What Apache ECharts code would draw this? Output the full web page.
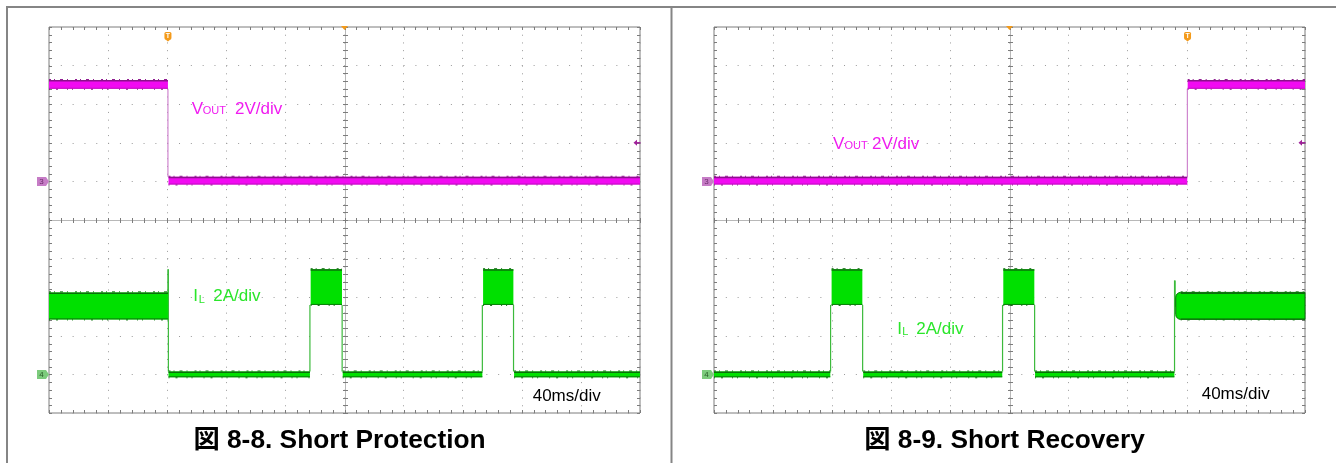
<!DOCTYPE html>
<html><head><meta charset="utf-8">
<script src="https://cdn.jsdelivr.net/npm/echarts@6.0.0/dist/echarts.min.js"></script>
<style>html,body{margin:0;padding:0;background:#fff}#c{width:1336px;height:463px}</style>
</head><body><div id="c"></div>
<script>
// ---------- scales (time in ms, VOUT in V, IL in A) ----------
const timeMin = 0, timeMax = 400, timeDiv = 40;      // 40ms/div
const voutMin = -12, voutMax = 8, voutDiv = 2;        // 2V/div
const ilMin = -2, ilMax = 18, ilDiv = 2;              // 2A/div

// ---------- 図 8-8. Short Protection ----------
const protTrigger = 80.5;
const protTrigLevel = 2;
// bands: [tStart, tEnd, low, high]
const protVoutBands = [[0, 80.5, 4.8, 5.25], [80.9, 400, -0.16, 0.24]];
// edges: [t, from, to]
const protVoutEdges = [[80.5, 4.8, 0.24]];
const protIlBands = [[0, 80.5, 2.85, 4.25], [80.9, 176.6, -0.15, 0.15], [177.1, 198.3, 3.6, 5.45],
                     [198.8, 293.3, -0.15, 0.15], [293.8, 314.3, 3.6, 5.45], [314.8, 400, -0.15, 0.15]];
const protIlEdges = [[80.5, 2.85, 5.45], [80.8, 5.45, 0.15], [176.6, 0.15, 3.6], [198.4, 3.6, 0.15],
                     [293.3, 0.15, 3.6], [314.4, 3.6, 0.15]];

// ---------- 図 8-9. Short Recovery ----------
const recTrigger = 320.5;
const recTrigLevel = 2;
const recVoutBands = [[0, 320.3, -0.16, 0.24], [320.6, 400, 4.8, 5.25]];
const recVoutEdges = [[320.4, 0.24, 4.8]];
const recIlBands = [[0, 78.7, -0.15, 0.15], [79.6, 100.4, 3.6, 5.45], [101, 195.1, -0.15, 0.15],
                    [195.8, 216.8, 3.6, 5.45], [217.3, 311.6, -0.15, 0.15], [312.5, 400, 2.85, 4.25]];
const recIlEdges = [[78.9, 0.15, 3.6], [100.6, 3.6, 0.15], [195.3, 0.15, 3.6], [217, 3.6, 0.15],
                    [311.7, 0.15, 4.87], [312.1, 4.87, 3.5]];

const captions = ['図 8-8. Short Protection', '図 8-9. Short Recovery'];

// ---------- rendering ----------
const FONT = '"Liberation Sans", Arial, "Noto Sans CJK JP", sans-serif';
function ln(x1, y1, x2, y2, stroke, w, dash) {
  const st = {stroke, lineWidth: w || 1};
  if (dash) st.lineDash = dash;
  return {type: 'line', shape: {x1, y1, x2, y2}, style: st};
}
function decorRender(trigger) {
  return function (params, api) {
    const tl = api.coord([timeMin, voutMax]), br = api.coord([timeMax, voutMin]);
    const c = api.coord([(timeMin + timeMax) / 2, (voutMin + voutMax) / 2]);
    const ch = [];
    const cy = Math.round(c[1]) + 0.5, cx = Math.round(c[0]) + 0.5;
    ch.push(ln(tl[0], cy, br[0], cy, '#b8b8b8'));
    ch.push(ln(cx, tl[1], cx, br[1], '#b8b8b8'));
    const tk = '#7c7c7c';
    const tStep = timeDiv / 5;
    for (let i = 0; i <= Math.round((timeMax - timeMin) / tStep); i++) {
      const x = Math.round(api.coord([timeMin + i * tStep, 0])[0]) + 0.5;
      ch.push(ln(x, tl[1], x, tl[1] + 3, tk));
      ch.push(ln(x, br[1] - 3, x, br[1], tk));
      ch.push(ln(x, cy - 2.5, x, cy + 2.5, tk));
    }
    const vStep = voutDiv / 5;
    for (let i = 0; i <= Math.round((voutMax - voutMin) / vStep); i++) {
      const y = Math.round(api.coord([0, voutMin + i * vStep])[1]) + 0.5;
      ch.push(ln(tl[0], y, tl[0] + 3, y, tk));
      ch.push(ln(br[0] - 3, y, br[0], y, tk));
      ch.push(ln(cx - 2.5, y, cx + 2.5, y, tk));
    }
    // horizontal position marker (top centre)
    ch.push({type: 'polygon', shape: {points: [[c[0] - 3.5, tl[1] - 1], [c[0] + 3.5, tl[1] - 1], [c[0], tl[1] + 3]]},
             style: {fill: '#f39a1a'}});
    // trigger marker "T"
    const tx = api.coord([trigger, 0])[0];
    const top = tl[1] + 5;
    ch.push({type: 'rect', shape: {x: tx - 3.5, y: top, width: 7, height: 7.5, r: 1.5}, style: {fill: '#f39a1a'}});
    ch.push({type: 'polygon', shape: {points: [[tx - 3, top + 7], [tx + 3, top + 7], [tx, top + 9.5]]}, style: {fill: '#f39a1a'}});
    ch.push({type: 'text', x: tx, y: top + 4, style: {text: 'T', fill: '#fff', fontSize: 7, fontWeight: 'bold',
             fontFamily: FONT, align: 'center', verticalAlign: 'middle'}});
    return {type: 'group', children: ch};
  };
}
function bandRender(col, marker, trigLevel, roundIdx) {
  return function (params, api) {
    const t0 = api.value(0), t1 = api.value(1), lo = api.value(2), hi = api.value(3);
    const a = api.coord([t0, hi]), b = api.coord([t1, lo]);
    const h = b[1] - a[1];
    const rounded = params.dataIndex === roundIdx;
    const r = rounded ? Math.min(5, h / 2) : 0;
    const ch = [
      {type: 'rect', shape: {x: a[0], y: a[1], width: b[0] - a[0], height: h, r: [r, 0, 0, r]},
       style: {fill: col.fill, stroke: rounded ? col.edge : null, lineWidth: rounded ? 1 : 0}},
      ln(a[0] + r, a[1] + 0.75, b[0], a[1] + 0.75, col.edge, 1.5),
      ln(a[0] + r, b[1] - 0.5, b[0], b[1] - 0.5, col.edge2, 1),
      // speckle noise on the trace edges
      ln(a[0] + r, a[1] - 0.5, b[0], a[1] - 0.5, col.edge, 1, [2, 3, 1, 5, 3, 4, 1, 7]),
      ln(a[0] + r, b[1] + 0.5, b[0], b[1] + 0.5, col.edge, 1, [1, 6, 2, 9, 1, 4, 1, 11])
    ];
    if (params.dataIndex === 0) {
      const g = api.coord([timeMin, 0]);
      const gx = g[0], gy = g[1];
      ch.push({type: 'polygon', shape: {points: [[gx - 12, gy - 4.5], [gx - 3, gy - 4.5], [gx, gy], [gx - 3, gy + 4.5], [gx - 12, gy + 4.5]]},
               style: {fill: marker.fill}});
      ch.push({type: 'text', x: gx - 7.5, y: gy + 0.5, style: {text: marker.label, fill: marker.text, fontSize: 8,
               fontFamily: FONT, align: 'center', verticalAlign: 'middle'}});
      if (trigLevel != null) {
        const rr = api.coord([timeMax, trigLevel]);
        ch.push({type: 'polygon', shape: {points: [[rr[0] - 6.5, rr[1]], [rr[0] - 3, rr[1] - 3], [rr[0] - 3, rr[1] + 3]]},
                 style: {fill: '#a0209a'}});
        ch.push(ln(rr[0] - 3.5, rr[1], rr[0] + 0.5, rr[1], '#a0209a', 1.5));
      }
    }
    return {type: 'group', children: ch};
  };
}
function edgeRender(color) {
  return function (params, api) {
    const p = api.coord([api.value(0), api.value(1)]), q = api.coord([api.value(0), api.value(2)]);
    return ln(p[0], p[1], q[0], q[1], color, 1.2);
  };
}

const MAG = {fill: '#f20af2', edge: '#8c128c', edge2: '#c010c0'};
const GRN = {fill: '#00e000', edge: '#0a6e0a', edge2: '#0c7a0c'};

const panels = [
  {left: 49, trigger: protTrigger, trig: protTrigLevel, vb: protVoutBands, ve: protVoutEdges, ib: protIlBands, ie: protIlEdges, round: -1},
  {left: 714, trigger: recTrigger, trig: recTrigLevel, vb: recVoutBands, ve: recVoutEdges, ib: recIlBands, ie: recIlEdges, round: recIlBands.length - 1}
];

const grids = [], xAxes = [], yAxes = [], series = [];
panels.forEach((p, i) => {
  grids.push({left: p.left, top: 27, width: 591, height: 386, show: true, borderColor: '#7d7d7d', borderWidth: 1,
              backgroundColor: 'transparent', containLabel: false});
  xAxes.push({gridIndex: i, type: 'value', min: timeMin, max: timeMax, interval: timeDiv,
              axisLine: {show: false}, axisTick: {show: false}, axisLabel: {show: false},
              splitLine: {show: true, lineStyle: {color: '#9a9a9a', width: 1, type: [1, 6.72]}}});
  yAxes.push({gridIndex: i, type: 'value', min: voutMin, max: voutMax, interval: voutDiv,
              axisLine: {show: false}, axisTick: {show: false}, axisLabel: {show: false},
              splitLine: {show: true, lineStyle: {color: '#9a9a9a', width: 1, type: [1, 10.82]}}});
  yAxes.push({gridIndex: i, type: 'value', min: ilMin, max: ilMax, interval: ilDiv,
              axisLine: {show: false}, axisTick: {show: false}, axisLabel: {show: false}, splitLine: {show: false}});
  const common = {type: 'custom', xAxisIndex: i, silent: true, animation: false};
  series.push(Object.assign({}, common, {yAxisIndex: 2 * i, z: 1, data: [[0, 0]], renderItem: decorRender(p.trigger)}));
  series.push(Object.assign({}, common, {yAxisIndex: 2 * i, z: 3, data: p.ve, renderItem: edgeRender('#cf86cf')}));
  series.push(Object.assign({}, common, {yAxisIndex: 2 * i, z: 4, data: p.vb,
    renderItem: bandRender(MAG, {fill: '#c67cc6', text: '#6a2a6a', label: '3'}, p.trig, -1)}));
  series.push(Object.assign({}, common, {yAxisIndex: 2 * i + 1, z: 3, data: p.ie, renderItem: edgeRender('#3cba3c')}));
  series.push(Object.assign({}, common, {yAxisIndex: 2 * i + 1, z: 4, data: p.ib,
    renderItem: bandRender(GRN, {fill: '#7ccb7c', text: '#2a5e2a', label: '4'}, null, p.round)}));
});

function txt(x, y, text, size, fill, weight, align) {
  return {type: 'text', x, y, silent: true, z: 100,
          style: {text, fill, fontSize: size, fontWeight: weight || 'normal', fontFamily: FONT,
                  align: align || 'left', verticalAlign: 'middle'}};
}
function capY(base, size) { return base - 0.355 * size; }
const VC = '#f01cf0', GC = '#2ae62a';
const graphics = [
  ln(7, 7, 1336, 7, '#858585', 2),
  ln(7, 6, 7, 463, '#858585', 2),
  ln(671.5, 6, 671.5, 463, '#858585', 2),
  // left panel labels
  txt(191.7, capY(115, 17), 'V', 17, VC), txt(202.7, capY(115, 11), 'OUT', 11, VC), txt(235, capY(115, 17), '2V/div', 17, VC),
  txt(193.3, capY(302.7, 17), 'I', 17, GC), txt(198.8, capY(303.5, 11), 'L', 11, GC), txt(213.3, capY(302.7, 17), '2A/div', 17, GC),
  txt(532.7, capY(402, 17), '40ms/div', 17, '#000'),
  // right panel labels
  txt(833, capY(150, 17), 'V', 17, VC), txt(844.5, capY(150, 11), 'OUT', 11, VC), txt(872, capY(150, 17), '2V/div', 17, VC),
  txt(897.3, capY(335, 17), 'I', 17, GC), txt(902.3, capY(335.8, 11), 'L', 11, GC), txt(916.3, capY(335, 17), '2A/div', 17, GC),
  txt(1201.7, capY(400.5, 17), '40ms/div', 17, '#000'),
  // captions
  txt(339.5, capY(450, 26.3), captions[0], 26.3, '#000', 'bold', 'center'),
  txt(1004.5, capY(450, 26.3), captions[1], 26.3, '#000', 'bold', 'center')
].map(e => Object.assign(e, {silent: true, z: e.z || 50}));

const chart = echarts.init(document.getElementById('c'), null, {renderer: 'canvas', width: 1336, height: 463});
chart.setOption({
  animation: false,
  backgroundColor: '#ffffff',
  grid: grids, xAxis: xAxes, yAxis: yAxes, series: series,
  graphic: {elements: graphics}
});
</script>
</body></html>
